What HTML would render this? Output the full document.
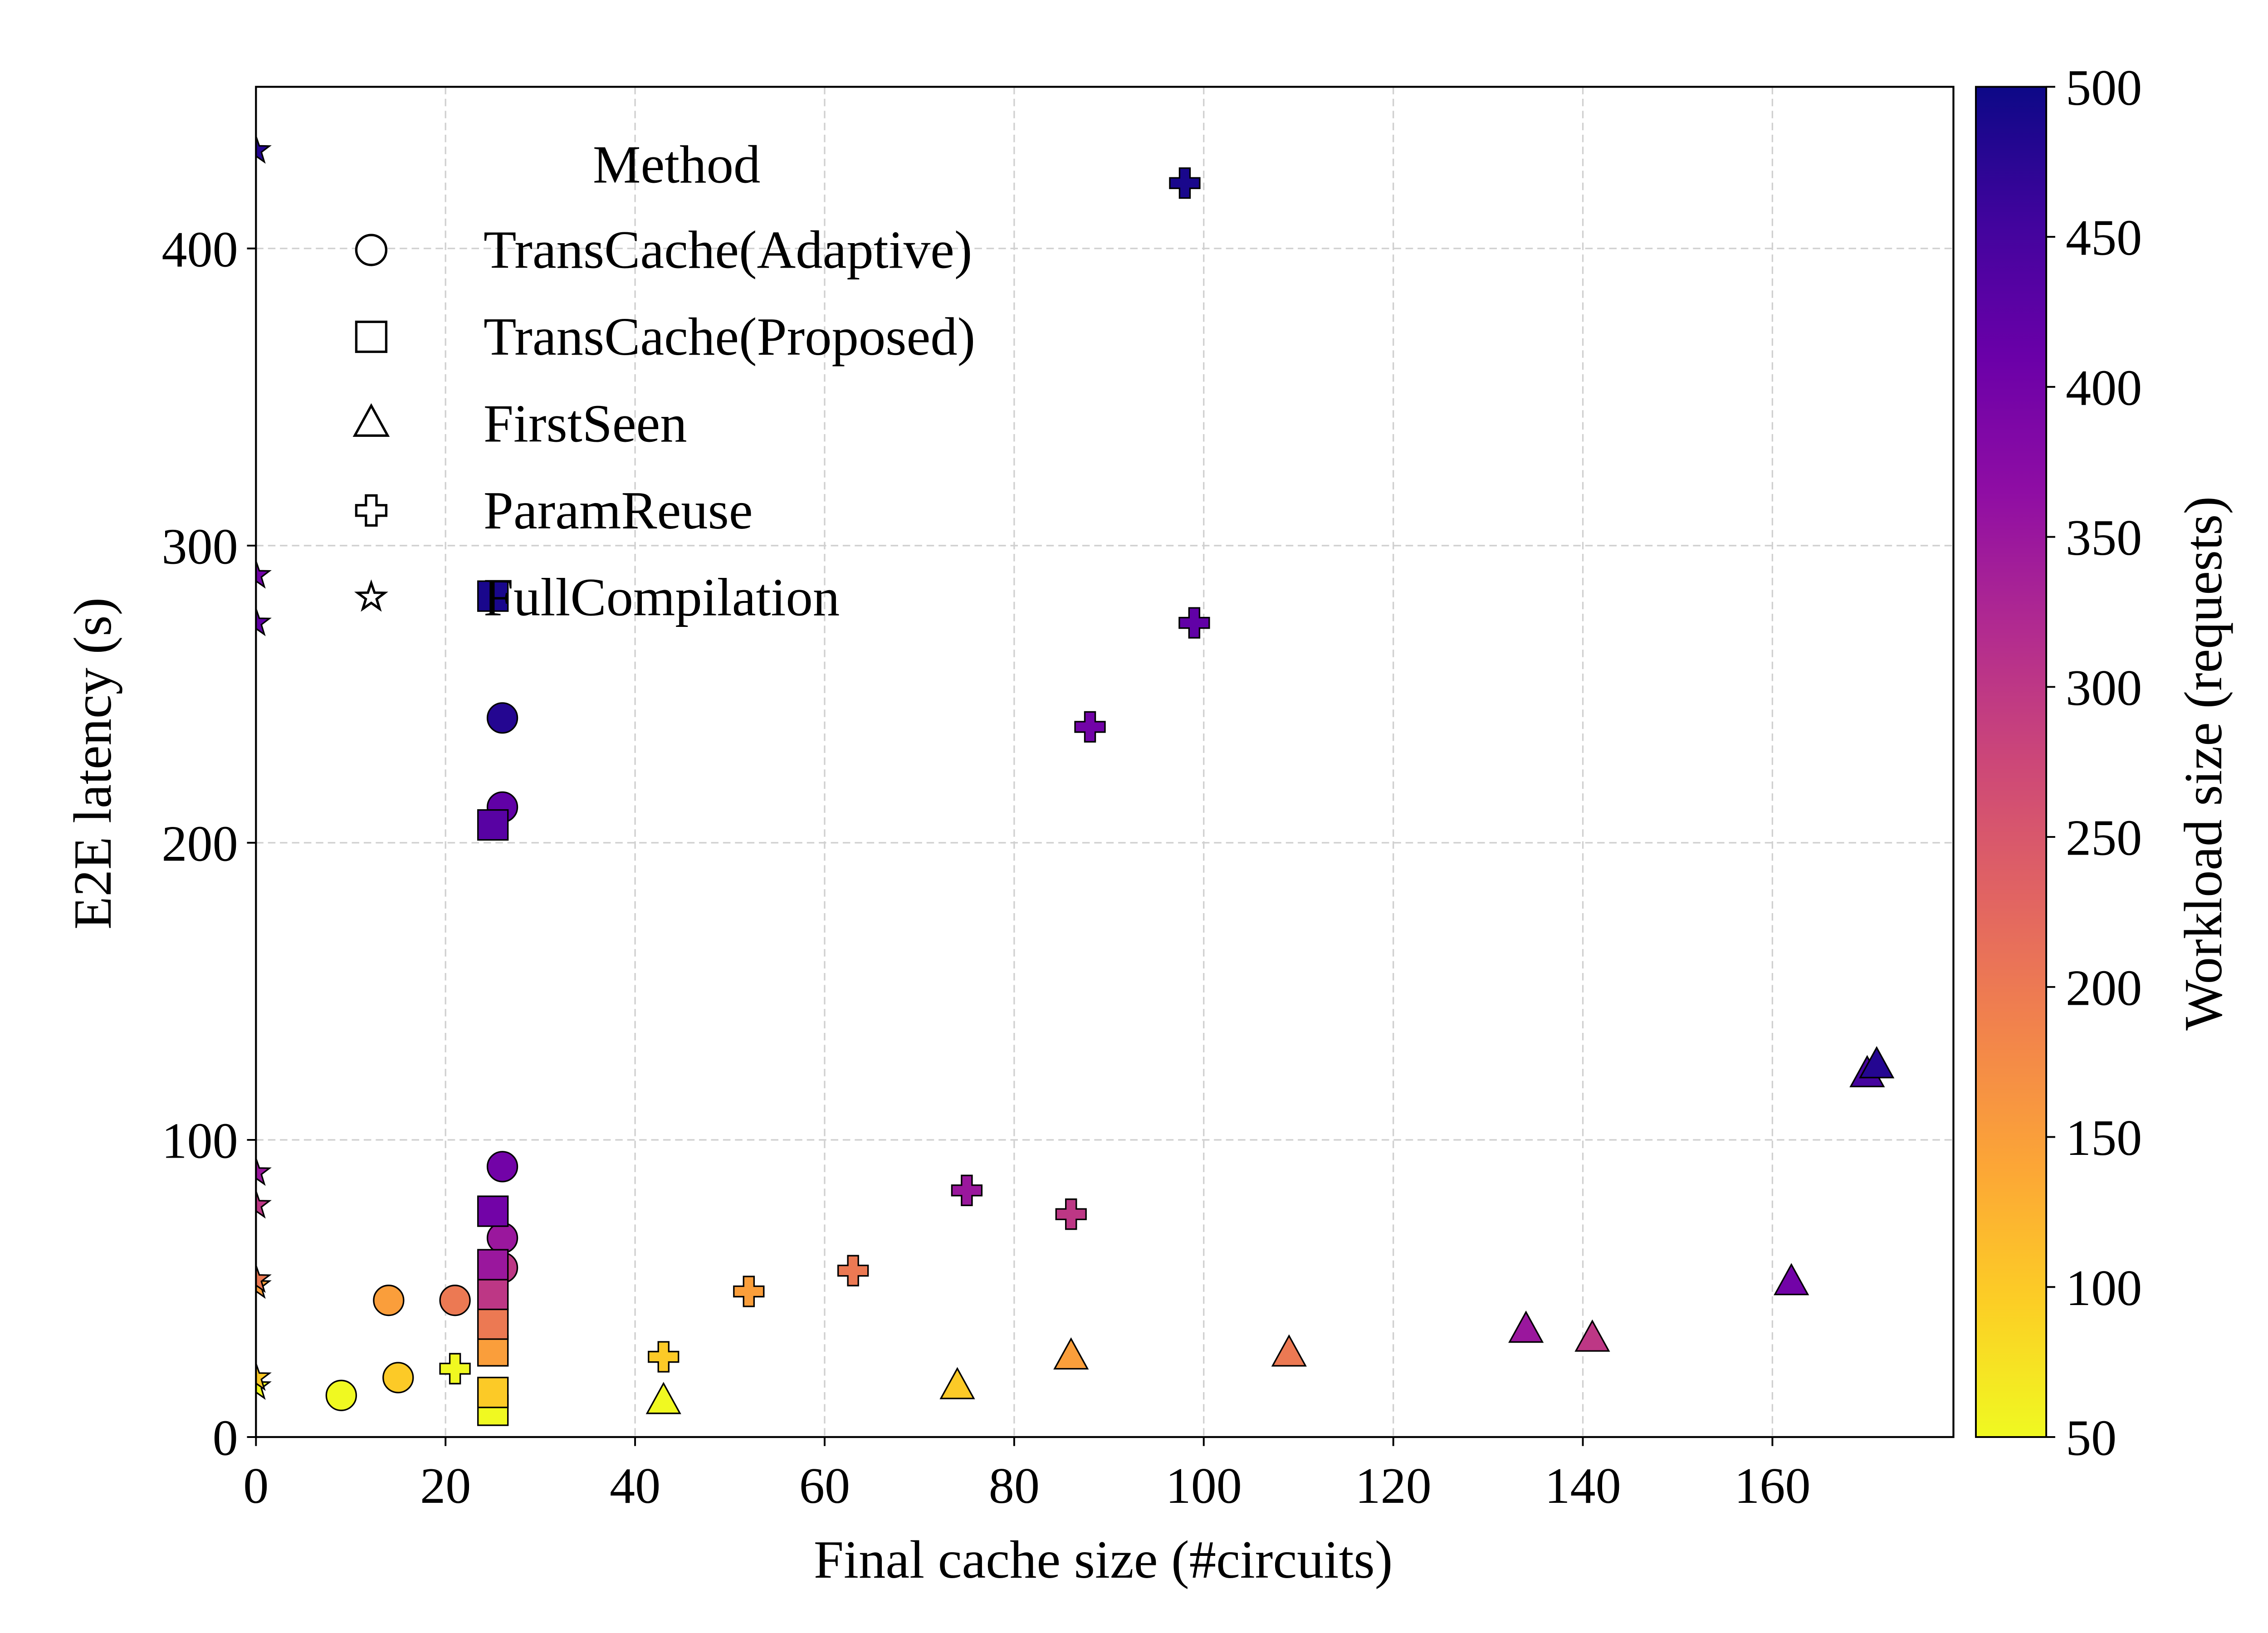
<!DOCTYPE html>
<html><head><meta charset="utf-8"><style>html,body{margin:0;padding:0;background:#fff}svg{display:block}text{font-family:"Liberation Serif",serif;fill:#000}</style></head>
<body>
<svg id="chart" width="5100" height="3600" viewBox="0 0 1545.45 1090.91" xmlns="http://www.w3.org/2000/svg">
<defs>
<linearGradient id="cb" x1="0" y1="1" x2="0" y2="0"></linearGradient>
<clipPath id="plotclip"><rect x="171" y="58" width="1134" height="902"/></clipPath>
</defs>
<rect x="0" y="0" width="1545.45" height="1090.91" fill="#fff"/>
<g id="grid"></g>
<g id="marks" clip-path="url(#plotclip)"></g>
<rect x="171" y="58" width="1134" height="902" fill="none" stroke="#000" stroke-width="1.3"/>
<g id="axes"></g>
<text x="737" y="1054" font-size="36" text-anchor="middle">Final cache size (#circuits)</text>
<text transform="translate(74,510) rotate(-90)" font-size="36" text-anchor="middle">E2E latency (s)</text>
<g id="legend">
<text x="452" y="122" font-size="36" text-anchor="middle">Method</text>
</g>
<rect x="1320" y="58" width="47" height="902" fill="url(#cb)" stroke="#000" stroke-width="1.2"/>
<g id="cbaxis"></g>
<text transform="translate(1484,510) rotate(-90)" font-size="36" text-anchor="middle">Workload size (requests)</text>
</svg>
<script>
const xTicks=[0,20,40,60,80,100,120,140,160];
const yTicks=[0,100,200,300,400];
const cbTicks=[50,100,150,200,250,300,350,400,450,500];
const adaptiveX=[9,15,14,21,26,26,26,26,26];
const adaptiveY=[14,20,46,46,57,67,91,212,242];
const adaptiveW=[50,100,150,200,300,350,400,420,480];
const proposedX=[25,25,25,25,25,25,25,25,25];
const proposedY=[9,15,29,38,48,58,76,206,283];
const proposedW=[50,100,150,200,300,350,400,430,490];
const firstX=[43,74,86,109,134,141,162,170,171];
const firstY=[12,17,27,28,36,33,52,122,125];
const firstW=[50,100,150,200,350,300,400,450,480];
const paramX=[21,43,52,63,75,86,88,99,98];
const paramY=[23,27,49,56,83,75,239,274,422];
const paramW=[50,100,150,200,350,300,400,420,490];
const fullX=[0,0,0,0,0,0,0,0,0];
const fullY=[17,20,51,53,78,89,274,290,433];
const fullW=[50,100,150,200,300,350,420,400,480];
const legendLabels=["TransCache(Adaptive)","TransCache(Proposed)","FirstSeen","ParamReuse","FullCompilation"];

const NS="http://www.w3.org/2000/svg";
const X0=171,X1=1305,Y0=960,Y1=58;
const xmax=179.1,ymax=454.4;
const sx=v=>X0+v/xmax*(X1-X0);
const sy=v=>Y0-v/ymax*(Y0-Y1);
const cby=v=>960-(v-50)/450*902;
const plasma=["#0d0887","#41049d","#6a00a8","#8f0da4","#b12a90","#cc4778","#e16462","#f2844b","#fca636","#fcce25","#f0f921"];
function hex(h){return [1,3,5].map(i=>parseInt(h.substr(i,2),16));}
function cmap(w){let t=1-(w-50)/450;t=Math.max(0,Math.min(1,t))*10;const i=Math.min(9,Math.floor(t)),f=t-i;const a=hex(plasma[i]),b=hex(plasma[i+1]);return "rgb("+a.map((v,k)=>Math.round(v+(b[k]-v)*f)).join(",")+")";}
function mk(tag,at,parent){const e=document.createElementNS(NS,tag);for(const k in at)e.setAttribute(k,at[k]);parent.appendChild(e);return e;}
const grid=document.getElementById('grid'),axes=document.getElementById('axes'),marks=document.getElementById('marks');
xTicks.forEach(v=>{const x=sx(v);
 const g=mk('line',{x1:x,x2:x,y1:Y1,y2:Y0,stroke:'#d0d0d0','stroke-width':1,'stroke-dasharray':'5,3'},grid);
 
 const t=mk('line',{x1:x,x2:x,y1:Y0,y2:Y0+6,stroke:'#000','stroke-width':1.2},axes);
 
 const l=mk('text',{x:x,y:Y0+44,'font-size':34,'text-anchor':'middle'},axes);l.textContent=v;
 });
yTicks.forEach(v=>{const y=sy(v);
 const g=mk('line',{x1:X0,x2:X1,y1:y,y2:y,stroke:'#d0d0d0','stroke-width':1,'stroke-dasharray':'5,3'},grid);
 
 const t=mk('line',{x1:X0-6,x2:X0,y1:y,y2:y,stroke:'#000','stroke-width':1.2},axes);
 
 const l=mk('text',{x:X0-12,y:y+12,'font-size':34,'text-anchor':'end'},axes);l.textContent=v;
 });
const grad=document.getElementById('cb');
for(let i=0;i<=20;i++){mk('stop',{offset:(i/20),'stop-color':cmap(50+450*i/20)},grad);}
const cba=document.getElementById('cbaxis');
cbTicks.forEach(v=>{const y=cby(v);
 const t=mk('line',{x1:1367,x2:1373,y1:y,y2:y,stroke:'#000','stroke-width':1.2},cba);
 
 const l=mk('text',{x:1380,y:y+12,'font-size':34},cba);l.textContent=v;
 });
function shape(type,cx,cy,fill,parent,sw){let e;
 if(type==='circle')e=mk('circle',{cx,cy,r:10},parent);
 else if(type==='square')e=mk('rect',{x:cx-10,y:cy-10,width:20,height:20},parent);
 else if(type==='triangle')e=mk('polygon',{points:`${cx},${cy-12} ${cx+11},${cy+8} ${cx-11},${cy+8}`},parent);
 else if(type==='plus'){const a=3.5,b=10;e=mk('polygon',{points:`${cx-a},${cy-b} ${cx+a},${cy-b} ${cx+a},${cy-a} ${cx+b},${cy-a} ${cx+b},${cy+a} ${cx+a},${cy+a} ${cx+a},${cy+b} ${cx-a},${cy+b} ${cx-a},${cy+a} ${cx-b},${cy+a} ${cx-b},${cy-a} ${cx-a},${cy-a}`},parent);}
 else {let p=[];for(let i=0;i<10;i++){const r=i%2?3.8:9.5,ang=-Math.PI/2+i*Math.PI/5;p.push((cx+r*Math.cos(ang)).toFixed(2)+","+(cy+r*Math.sin(ang)).toFixed(2));}e=mk('polygon',{points:p.join(' ')},parent);}
 e.setAttribute('fill',fill);e.setAttribute('stroke','#000');e.setAttribute('stroke-width',sw);return e;}
const series=[["circle",adaptiveX,adaptiveY,adaptiveW,"adaptive"],["square",proposedX,proposedY,proposedW,"proposed"],["triangle",firstX,firstY,firstW,"firstseen"],["plus",paramX,paramY,paramW,"paramreuse"],["star",fullX,fullY,fullW,"fullcompilation"]];
series.forEach(s=>{s[1].forEach((xv,i)=>{const e=shape(s[0],sx(xv),sy(s[2][i]),cmap(s[3][i]),marks,1);
 });});
const leg=document.getElementById('legend');
series.forEach((s,i)=>{const y=167+58*i;
 const e=shape(s[0],248,y,'#fff',leg,1.6);
 
 const t=mk('text',{x:323,y:y+12,'font-size':36},leg);t.textContent=legendLabels[i];
 });
</script>
</body></html>
